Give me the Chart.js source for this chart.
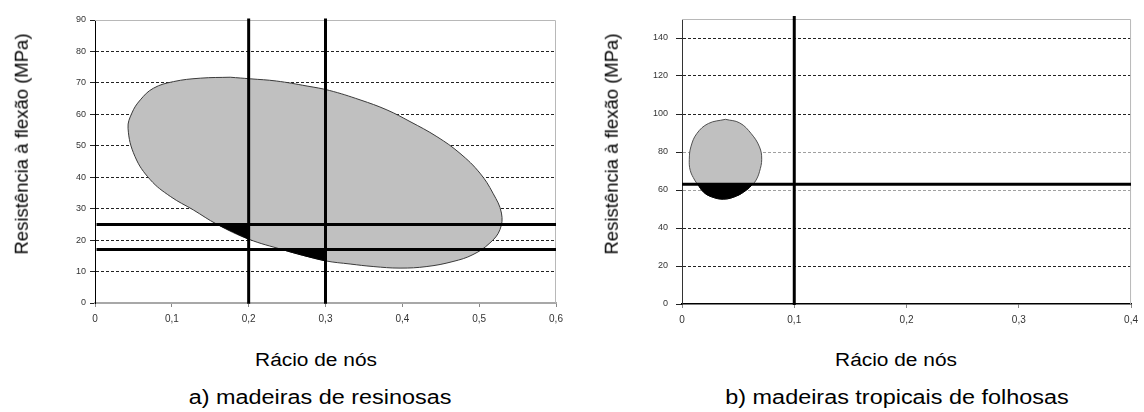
<!DOCTYPE html>
<html>
<head>
<meta charset="utf-8">
<script src="https://cdn.jsdelivr.net/npm/chart.js@4.4.1/dist/chart.umd.min.js"></script>
<style>
  body { margin: 0; background: #fff; width: 1144px; height: 412px; position: relative; overflow: hidden;
         font-family: "Liberation Sans", Arial, sans-serif; color: #000; }
  canvas { position: absolute; top: 0; }
  .ytit { position: absolute; font-size: 18.5px; line-height: 1; white-space: nowrap;
          transform: translate(-50%, -50%) rotate(-90deg); }
  .xtit { position: absolute; font-size: 18px; line-height: 1; white-space: nowrap;
          transform: translateX(-50%) scaleX(1.16); }
  .cap { position: absolute; font-size: 20px; line-height: 1; white-space: nowrap;
         transform: translateX(-50%) scaleX(1.17); }
</style>
</head>
<body>
<canvas id="graficoA" width="572" height="340" style="left:0"></canvas>
<canvas id="graficoB" width="572" height="340" style="left:572px"></canvas>

<div class="ytit" style="left:21.5px; top:144px">Resistência à flexão (MPa)</div>
<div class="ytit" style="left:611.5px; top:144px">Resistência à flexão (MPa)</div>
<div class="xtit" style="left:316px; top:351px">Rácio de nós</div>
<div class="xtit" style="left:896px; top:351px">Rácio de nós</div>
<div class="cap" style="left:320px; top:387px">a) madeiras de resinosas</div>
<div class="cap" style="left:897px; top:387px">b) madeiras tropicais de folhosas</div>

<script>
// a) madeiras de resinosas
const xTicksA = ["0", "0,1", "0,2", "0,3", "0,4", "0,5", "0,6"];
const yTicksA = ["0", "10", "20", "30", "40", "50", "60", "70", "80", "90"];
const elipseAx = [0.176, 0.202, 0.236, 0.276, 0.305, 0.345, 0.380, 0.410, 0.445, 0.475, 0.501, 0.518, 0.529,
                  0.527, 0.514, 0.492, 0.466, 0.432, 0.397, 0.362, 0.332, 0.300, 0.270, 0.245, 0.200, 0.159,
                  0.128, 0.098, 0.072, 0.052, 0.043, 0.048, 0.059, 0.076, 0.102, 0.137, 0.176];
const elipseAy = [71.8, 71.3, 70.6, 69.0, 67.6, 64.6, 61.4, 57.7, 52.9, 47.6, 41.3, 34.9, 28.6,
                  23.3, 19.1, 15.4, 13.2, 11.6, 11.1, 11.6, 12.4, 13.4, 15.2, 16.9, 20.3, 25.0,
                  29.6, 33.9, 39.2, 46.6, 55.6, 60.4, 64.6, 68.3, 70.4, 71.5, 71.8];
const canto1Ax = [0.159, 0.180, 0.200];
const canto1Ay = [25.0, 22.6, 20.3];
const canto2Ax = [0.245, 0.270, 0.300];
const canto2Ay = [16.9, 15.2, 13.4];
const limiteXA = [0.2, 0.3];
const limiteYA = [25, 17];
const verticalYA = [-0.2, 90.5];
const horizontalXA = [0.002, 0.6];

// b) madeiras tropicais de folhosas
const xTicksB = ["0", "0,1", "0,2", "0,3", "0,4"];
const yTicksB = ["0", "20", "40", "60", "80", "100", "120", "140"];
const circuloBx = [0.0387, 0.0514, 0.0616, 0.0690, 0.0710, 0.0690, 0.0660, 0.0630, 0.0572, 0.0484, 0.0373,
                   0.0264, 0.0190, 0.0140, 0.0113, 0.0073, 0.0065, 0.0079, 0.0132, 0.0235, 0.0387];
const circuloBy = [97.2, 95.3, 89.7, 82.7, 76.2, 69.6, 65.2, 63.0, 59.9, 56.8, 55.2,
                   56.4, 59.0, 63.0, 65.2, 70.4, 76.2, 82.7, 89.7, 95.0, 97.2];
const calotaBx = [0.0140, 0.0190, 0.0264, 0.0373, 0.0484, 0.0572, 0.0630];
const calotaBy = [63.0, 59.0, 56.4, 55.2, 56.8, 59.9, 63.0];
const limiteXB = 0.1;
const limiteYB = 63;
const verticalYB = [-0.5, 151.6];
const horizontalXB = [0, 0.4];

const fonte = "'Liberation Sans', Arial, sans-serif";
const fonteEstreita = "'Liberation Sans Narrow', 'Liberation Sans', Arial, sans-serif";

const pontos = (xs, ys) => xs.map((x, i) => ({ x, y: ys[i] }));

const linha = (data, largura, cor, extra) => Object.assign({
  data,
  borderColor: cor,
  borderWidth: largura,
  pointRadius: 0,
  pointHoverRadius: 0,
  fill: false,
  tension: 0
}, extra || {});

// contorno cinzento da area do grafico (topo e direita)
const bordaPlot = {
  id: "bordaPlot",
  beforeDatasetsDraw(chart) {
    const { ctx, chartArea: a } = chart;
    ctx.save();
    ctx.strokeStyle = "#b8b8b8";
    ctx.lineWidth = 1;
    ctx.beginPath();
    ctx.moveTo(a.left, a.top + 0.5);
    ctx.lineTo(a.right - 0.5, a.top + 0.5);
    ctx.lineTo(a.right - 0.5, a.bottom);
    ctx.stroke();
    ctx.restore();
  }
};

const opcoesBase = (padding) => ({
  responsive: false,
  animation: false,
  devicePixelRatio: 1,
  events: [],
  layout: { padding },
  plugins: { legend: { display: false }, tooltip: { enabled: false } }
});

const graficoA = new Chart(document.querySelector("#graficoA"), {
  type: "line",
  data: {
    datasets: [
      linha(pontos([limiteXA[0], limiteXA[0]], verticalYA), 3, "#000", { clip: false }),
      linha(pontos([limiteXA[1], limiteXA[1]], verticalYA), 3, "#000", { clip: false }),
      linha(pontos(horizontalXA, [limiteYA[0], limiteYA[0]]), 3, "#000"),
      linha(pontos(horizontalXA, [limiteYA[1], limiteYA[1]]), 3, "#000"),
      linha(pontos(canto1Ax, canto1Ay), 1, "#000", { fill: { value: limiteYA[0] }, backgroundColor: "#000", tension: 0.3 }),
      linha(pontos(canto2Ax, canto2Ay), 1, "#000", { fill: { value: limiteYA[1] }, backgroundColor: "#000", tension: 0.3 }),
      linha(pontos(elipseAx, elipseAy), 1, "#3a3a3a", { fill: "shape", backgroundColor: "#c0c0c0", tension: 0.4 })
    ]
  },
  options: Object.assign(opcoesBase({ left: 0, right: 16, top: 20, bottom: 0 }), {
    scales: {
      x: {
        type: "linear", min: 0, max: 0.6,
        afterFit: (s) => { s.height = 37; },
        ticks: { stepSize: 0.1, padding: 6, maxRotation: 0, autoSkip: false, color: "#333",
                 font: { size: 10, family: fonteEstreita }, callback: (v, i) => xTicksA[i] },
        grid: { drawOnChartArea: false, tickLength: 4, color: "#888" },
        border: { color: "#a8a8a8", width: 2 }
      },
      y: {
        type: "linear", min: 0, max: 90,
        afterFit: (s) => { s.width = 95; },
        ticks: { stepSize: 10, padding: 4, color: "#333",
                 font: { size: 9, family: fonte }, callback: (v, i) => yTicksA[i] },
        grid: {
          color: (c) => (c.tick && (c.tick.value === 0 || c.tick.value === 90)) ? "rgba(0,0,0,0)" : "#222",
          tickColor: "#222", tickLength: 5, lineWidth: 1
        },
        border: { color: "#000", width: 1, dash: [3, 2] }
      }
    }
  }),
  plugins: [bordaPlot]
});

const graficoB = new Chart(document.querySelector("#graficoB"), {
  type: "line",
  data: {
    datasets: [
      linha(pontos([limiteXB, limiteXB], verticalYB), 3, "#000", { clip: false }),
      linha(pontos(horizontalXB, [limiteYB, limiteYB]), 3, "#000"),
      linha(pontos(calotaBx, calotaBy), 1, "#000", { fill: { value: limiteYB }, backgroundColor: "#000", tension: 0.4 }),
      linha(pontos(circuloBx, circuloBy), 1, "#505050", { fill: "shape", backgroundColor: "#c0c0c0", tension: 0.4 })
    ]
  },
  options: Object.assign(opcoesBase({ left: 0, right: 8, top: 19, bottom: 0 }), {
    scales: {
      x: {
        type: "linear", min: 0, max: 0.4,
        afterFit: (s) => { s.height = 36; },
        ticks: { stepSize: 0.1, padding: 6, maxRotation: 0, autoSkip: false, color: "#333",
                 font: { size: 10, family: fonteEstreita }, callback: (v, i) => xTicksB[i] },
        grid: { drawOnChartArea: false, tickLength: 4, color: "#888" },
        border: { color: "#000", width: 1.5 }
      },
      y: {
        type: "linear", min: 0, max: 150,
        afterFit: (s) => { s.width = 110; },
        ticks: { stepSize: 20, includeBounds: false, padding: 8, color: "#333",
                 font: { size: 9, family: fonte }, callback: (v, i) => yTicksB[i] },
        grid: {
          color: (c) => {
            if (!c.tick || c.tick.value === 0) return "rgba(0,0,0,0)";
            return (c.tick.value === 60 || c.tick.value === 80) ? "#a0a0a0" : "#222";
          },
          tickColor: "#222", tickLength: 6, lineWidth: 1
        },
        border: { color: "#333", width: 1, dash: [3, 2] }
      }
    }
  }),
  plugins: [bordaPlot]
});
</script>
</body>
</html>
